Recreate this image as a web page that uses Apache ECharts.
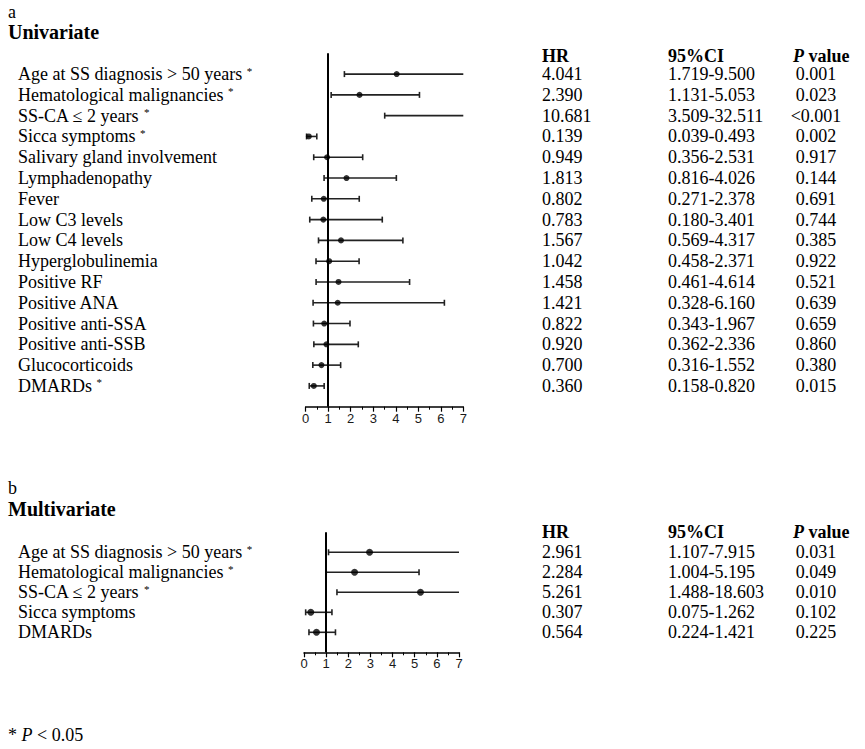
<!DOCTYPE html>
<html>
<head>
<meta charset="utf-8">
<script src="https://cdn.jsdelivr.net/npm/echarts@6/dist/echarts.min.js"></script>
<style>
html,body{margin:0;padding:0;background:#fff;}
#chart{width:865px;height:749px;}
</style>
</head>
<body>
<div id="chart"></div>
<script>
// ---------- DATA ----------
const uniLabels = [
  "Age at SS diagnosis > 50 years *",
  "Hematological malignancies *",
  "SS-CA \u2264 2 years *",
  "Sicca symptoms *",
  "Salivary gland involvement",
  "Lymphadenopathy",
  "Fever",
  "Low C3 levels",
  "Low C4 levels",
  "Hyperglobulinemia",
  "Positive RF",
  "Positive ANA",
  "Positive anti-SSA",
  "Positive anti-SSB",
  "Glucocorticoids",
  "DMARDs *"
];
const uniHR = [4.041, 2.390, 10.681, 0.139, 0.949, 1.813, 0.802, 0.783, 1.567, 1.042, 1.458, 1.421, 0.822, 0.920, 0.700, 0.360];
const uniLow = [1.719, 1.131, 3.509, 0.039, 0.356, 0.816, 0.271, 0.180, 0.569, 0.458, 0.461, 0.328, 0.343, 0.362, 0.316, 0.158];
const uniHigh = [9.500, 5.053, 32.511, 0.493, 2.531, 4.026, 2.378, 3.401, 4.317, 2.371, 4.614, 6.160, 1.967, 2.336, 1.552, 0.820];
const uniP = ["0.001", "0.023", "<0.001", "0.002", "0.917", "0.144", "0.691", "0.744", "0.385", "0.922", "0.521", "0.639", "0.659", "0.860", "0.380", "0.015"];

const multiLabels = [
  "Age at SS diagnosis > 50 years *",
  "Hematological malignancies *",
  "SS-CA \u2264 2 years *",
  "Sicca symptoms",
  "DMARDs"
];
const multiHR = [2.961, 2.284, 5.261, 0.307, 0.564];
const multiLow = [1.107, 1.004, 1.488, 0.075, 0.224];
const multiHigh = [7.915, 5.195, 18.603, 1.262, 1.421];
const multiP = ["0.031", "0.049", "0.010", "0.102", "0.225"];

const xTicks = [0, 1, 2, 3, 4, 5, 6, 7];

// ---------- LAYOUT ----------
const SERIF = "'Liberation Serif','Times New Roman',serif";
const SANS = "'Liberation Sans',Arial,sans-serif";
const FS = 18;
const labelX = 18;
const colHR = 542, colCI = 668, colP = 816;
const XMIN = xTicks[0], XMAX = xTicks[xTicks.length - 1];

const panels = [
  {labels: uniLabels, hr: uniHR, lo: uniLow, hi: uniHigh, p: uniP,
   left: 305.7, top: 53.3, width: 157.6, height: 353.4, sym: 6},
  {labels: multiLabels, hr: multiHR, lo: multiLow, hi: multiHigh, p: multiP,
   left: 304, top: 532.3, width: 155, height: 120, sym: 7}
];

const grids = [], xAxes = [], yAxes = [], series = [];
panels.forEach((P, k) => {
  const n = P.labels.length;
  const ymax = n + 1;
  const gridRight = P.left + P.width;
  grids.push({left: P.left, top: P.top, width: P.width, height: P.height, containLabel: false});
  xAxes.push({
    type: 'value', gridIndex: k, min: XMIN, max: XMAX, interval: 1,
    axisLine: {show: true, lineStyle: {color: '#000', width: 1.5}},
    axisTick: {show: true, length: 5, lineStyle: {color: '#000', width: 1.2}},
    minorTick: {show: true, splitNumber: 2, length: 3, lineStyle: {color: '#000', width: 1}},
    splitLine: {show: false}, minorSplitLine: {show: false},
    axisLabel: {color: '#1a1a1a', fontFamily: SANS, fontSize: 13, margin: 5,
      formatter: v => xTicks.indexOf(v) >= 0 ? String(v) : ''}
  });
  const idxOf = v => n - v; // value -> row index
  const baseY = {
    type: 'value', gridIndex: k, min: 0, max: ymax, interval: 1,
    axisLine: {show: false}, axisTick: {show: false}, splitLine: {show: false}
  };
  // left: variable names
  yAxes.push(Object.assign({}, baseY, {
    position: 'left',
    axisLabel: {
      align: 'left', margin: P.left - labelX, color: '#000', fontFamily: SERIF, fontSize: FS,
      formatter: v => {
        const i = idxOf(v);
        if (i < 0 || i >= n || v !== Math.round(v)) return '';
        const s = P.labels[i];
        return s.endsWith(' *') ? s.slice(0, -2) + ' {s|*}' : s;
      },
      rich: {s: {fontSize: 11, fontFamily: SERIF, color: '#000', verticalAlign: 'top', lineHeight: 12}}
    }
  }));
  const cols = [
    {x: colHR, align: 'left', f: i => P.hr[i].toFixed(3)},
    {x: colCI, align: 'left', f: i => P.lo[i].toFixed(3) + '-' + P.hi[i].toFixed(3)},
    {x: colP, align: 'center', f: i => P.p[i]}
  ];
  cols.forEach(c => {
    yAxes.push(Object.assign({}, baseY, {
      position: 'right',
      axisLabel: {
        align: c.align, margin: c.x - gridRight, color: '#000', fontFamily: SERIF, fontSize: FS,
        formatter: v => {
          const i = idxOf(v);
          if (i < 0 || i >= n || v !== Math.round(v)) return '';
          return c.f(i);
        }
      }
    }));
  });
  const yIdx = yAxes.length - 4;
  const barData = P.labels.map((_, i) => [n - i, P.hr[i], P.lo[i], P.hi[i]]);
  series.push({
    type: 'custom', xAxisIndex: k, yAxisIndex: yIdx, silent: true, clip: false,
    data: barData,
    renderItem: (params, api) => {
      const y = api.value(0), lo = api.value(2), hi = api.value(3);
      const a = api.coord([Math.max(lo, XMIN), y]);
      const b = api.coord([Math.min(hi, XMAX), y]);
      const st = {stroke: '#222', lineWidth: 1.6};
      const ch = [{type: 'line', shape: {x1: a[0], y1: a[1], x2: b[0], y2: b[1]}, style: st}];
      const cap = 3;
      if (lo >= XMIN) ch.push({type: 'line', shape: {x1: a[0], y1: a[1] - cap, x2: a[0], y2: a[1] + cap}, style: st});
      if (hi <= XMAX) ch.push({type: 'line', shape: {x1: b[0], y1: b[1] - cap, x2: b[0], y2: b[1] + cap}, style: st});
      return {type: 'group', children: ch};
    }
  });
  series.push({
    type: 'scatter', xAxisIndex: k, yAxisIndex: yIdx, silent: true,
    symbol: 'circle', symbolSize: P.sym, itemStyle: {color: '#000'},
    data: P.labels.map((_, i) => [P.hr[i], n - i]),
    z: 5,
    markLine: {
      silent: true, symbol: ['none', 'none'], label: {show: false},
      lineStyle: {color: '#000', width: 2, type: 'solid'},
      emphasis: {disabled: true},
      data: [{xAxis: 1}]
    }
  });
});

const richHead = {
  b: {fontFamily: SERIF, fontSize: FS, fontWeight: 'bold', fill: '#000', color: '#000'},
  i: {fontFamily: SERIF, fontSize: FS, fontWeight: 'bold', fontStyle: 'italic', fill: '#000', color: '#000'}
};
function head(y) {
  return [
    {type: 'text', x: colHR, y: y, silent: true, style: {text: 'HR', fill: '#000', font: 'bold ' + FS + 'px ' + SERIF, verticalAlign: 'middle'}},
    {type: 'text', x: colCI, y: y, silent: true, style: {text: '95%CI', fill: '#000', font: 'bold ' + FS + 'px ' + SERIF, verticalAlign: 'middle'}},
    {type: 'text', x: 793, y: y, silent: true, style: {text: '{i|P}{b| value}', rich: richHead, fill: '#000', font: 'bold ' + FS + 'px ' + SERIF, verticalAlign: 'middle'}}
  ];
}
const graphic = [
  {type: 'text', x: 8, y: 12, silent: true, style: {text: 'a', fill: '#000', font: '18px ' + SERIF, verticalAlign: 'middle'}},
  {type: 'text', x: 8, y: 32, silent: true, style: {text: 'Univariate', fill: '#000', font: 'bold 20px ' + SERIF, verticalAlign: 'middle'}},
  {type: 'text', x: 8, y: 488, silent: true, style: {text: 'b', fill: '#000', font: '18px ' + SERIF, verticalAlign: 'middle'}},
  {type: 'text', x: 8, y: 509, silent: true, style: {text: 'Multivariate', fill: '#000', font: 'bold 20px ' + SERIF, verticalAlign: 'middle'}},
  {type: 'text', x: 8, y: 735, silent: true, style: {text: '* {i|P} < 0.05', fill: '#000', font: FS + 'px ' + SERIF, verticalAlign: 'middle',
    rich: {i: {fontFamily: SERIF, fontSize: FS, fontStyle: 'italic', fill: '#000', color: '#000'}}}}
].concat(head(56), head(532));

const chart = echarts.init(document.getElementById('chart'), null, {renderer: 'svg'});
chart.setOption({
  animation: false,
  backgroundColor: '#fff',
  grid: grids, xAxis: xAxes, yAxis: yAxes, series: series,
  graphic: graphic
});
</script>
</body>
</html>
